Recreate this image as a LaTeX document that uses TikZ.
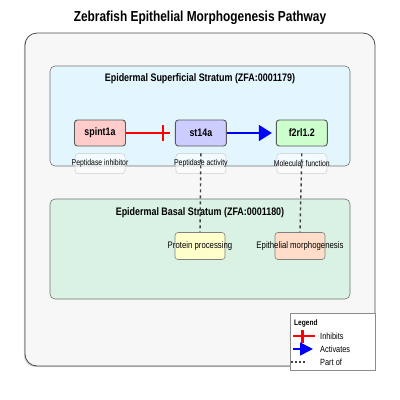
\documentclass[tikz,border=0pt]{standalone}
\usepackage{fontspec}
\setmainfont{Liberation Sans}[FakeStretch=0.82]
\usetikzlibrary{arrows.meta, positioning, shadows}

\definecolor{outerfill}{HTML}{F7F7F7}
\definecolor{superfill}{HTML}{E3F5FD}
\definecolor{basalfill}{HTML}{D9F2E4}
\definecolor{inhibfill}{HTML}{FFCCCC}
\definecolor{proteasefill}{HTML}{CCCCFF}
\definecolor{receptorfill}{HTML}{CCFFCC}
\definecolor{processfill}{HTML}{FFFFCC}
\definecolor{morphfill}{HTML}{FFDDC8}

\newcommand{\spill}[1]{\makebox[0pt]{#1}}

\begin{document}
\begin{tikzpicture}[
    x=1pt, y=-1pt,
    container/.style={rectangle, draw=black!70, line width=0.8pt, rounded corners=12pt, fill=outerfill,
                      drop shadow={shadow xshift=-1.2pt, shadow yshift=-1.2pt, opacity=0.35}},
    stratum/.style={rectangle, draw=black!55, line width=0.6pt, rounded corners=5pt,
                    minimum width=300pt, minimum height=100pt},
    zonetitle/.style={font=\bfseries\fontsize{10.9}{12}\selectfont},
    gene/.style={rectangle, draw=black!65, line width=0.9pt, rounded corners=3pt,
                 minimum width=51pt, minimum height=26pt, font=\bfseries\fontsize{10.8}{12}\selectfont},
    annot/.style={rectangle, draw=black!20, line width=0.5pt, rounded corners=3pt, fill=white,
                  fill opacity=0.6, text opacity=1, inner sep=0pt,
                  minimum width=50pt, minimum height=20pt, font=\fontsize{8.4}{10}\selectfont},
    process/.style={rectangle, draw=black!50, line width=0.6pt, rounded corners=3pt, inner sep=0pt,
                    minimum width=50pt, minimum height=27pt, font=\fontsize{9.5}{11}\selectfont},
    inhib/.style={red, line width=1.6pt},
    tbar/.style={rectangle, fill=red, inner sep=0pt, minimum width=2.6pt, minimum height=16pt},
    activ/.style={blue, line width=1.6pt, -{Triangle[length=13pt, width=16pt]}},
    partof/.style={black!75, line width=1.4pt, dash pattern=on 3pt off 3pt},
    legtext/.style={anchor=west, inner sep=0pt, font=\fontsize{9}{10}\selectfont},
]
\useasboundingbox (0,0) rectangle (400,400);

% Title
\node[font=\bfseries\fontsize{14.5}{16}\selectfont] (title) at (200,18) {Zebrafish Epithelial Morphogenesis Pathway};

% Outer frame
\node[container, minimum width=350pt, minimum height=333pt] (frame) at (200,199.5) {};

% Strata
\node[stratum, fill=superfill] (superficial) at (200,116) {};
\node[zonetitle] at (200,79) {Epidermal Superficial Stratum (ZFA:0001179)};
\node[stratum, fill=basalfill] (basal) at (200,249) {};
\node[zonetitle] at (200,213) {Epidermal Basal Stratum (ZFA:0001180)};

% Genes
\node[gene, fill=inhibfill] (spint1a) at (100,133) {spint1a};
\node[gene, fill=proteasefill, right=49pt of spint1a] (st14a) {st14a};
\node[gene, fill=receptorfill, right=49pt of st14a] (f2rl1) {f2rl1.2};

% Annotations
\node[annot, below=7pt of spint1a] (inhibitor) {\spill{Peptidase inhibitor}};
\node[annot, below=7pt of st14a] (activity) {\spill{Peptidase activity}};
\node[annot, below=7pt of f2rl1] (molfunc) {\spill{Molecular function}};

% Processes
\node[process, fill=processfill] (protproc) at (200,246) {\spill{Protein processing}};
\node[process, fill=morphfill] (epimorph) at (300,246) {\spill{Epithelial morphogenesis}};

% Interactions
\draw[inhib, shorten >=5pt] (spint1a) -- node[tbar, pos=0.76] (block) {} (st14a);
\draw[activ, shorten >=4pt] (st14a) -- (f2rl1);

% Part of
\draw[partof] (activity.north) -- (protproc.north);
\draw[partof] (molfunc.north) -- (epimorph.north);

% Legend
\node[rectangle, draw=black!45, line width=0.6pt, fill=white, minimum width=85pt, minimum height=57pt,
      drop shadow={shadow xshift=0.8pt, shadow yshift=-0.8pt, opacity=0.3}] (legend) at (332.5,341.5) {};
\node[anchor=west, inner sep=0pt, font=\bfseries\fontsize{8}{9}\selectfont] (legtitle) at (294,323) {Legend};
\coordinate (inhA) at (293,336);
\coordinate (inhB) at (315,336);
\draw[inhib, line width=2pt] (inhA) -- node[tbar, pos=0.42, minimum width=2.8pt, minimum height=13pt] {} (inhB);
\node[legtext] (leginhib) at (320,336) {Inhibits};
\coordinate (actA) at (293,349);
\coordinate (actB) at (313,349);
\draw[activ, -{Triangle[length=13pt, width=13pt]}] (actA) -- (actB);
\node[legtext] (legact) at (320,349) {Activates};
\coordinate (partA) at (291,362);
\coordinate (partB) at (306,362);
\draw[black!75, line width=1.3pt, dash pattern=on 2pt off 2pt] (partA) -- (partB);
\node[legtext] (legpart) at (320,362) {Part of};

\end{tikzpicture}
\end{document}
